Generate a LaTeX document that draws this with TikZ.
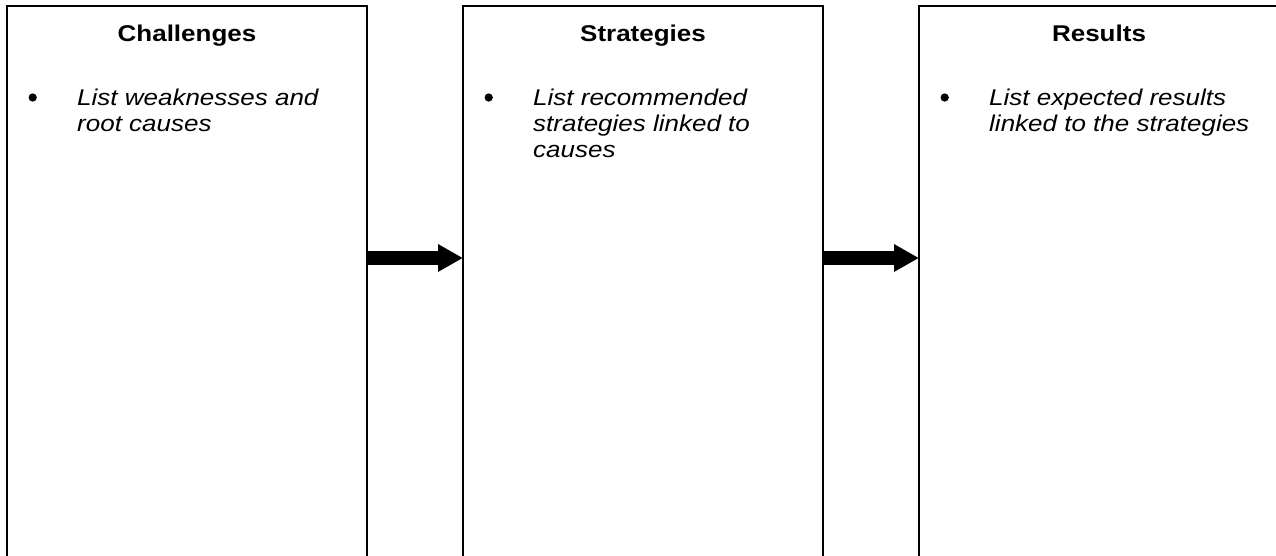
\documentclass[tikz,border=0pt]{standalone}
\usepackage{fontspec}
\setmainfont{Liberation Sans}[FakeStretch=1.14]
\usetikzlibrary{arrows.meta,calc}
\newcommand{\bodysize}{\fontsize{22.8}{26}\selectfont}
\tikzset{
  panel/.style={draw=black, line width=2pt, fill=white, minimum width=360pt, minimum height=700pt, inner sep=0pt, outer sep=0pt, anchor=north west},
  paneltitle/.style={anchor=base, inner sep=0pt, font=\bodysize\bfseries},
  bulletmark/.style={circle, fill=black, minimum size=8.3pt, inner sep=0pt},
  bodytext/.style={anchor=base west, inner sep=0pt, font=\bodysize\itshape},
  flowarrow/.style={draw=black, line width=14pt, line cap=butt, -{Triangle[length=25pt,width=26pt]}}
}
\begin{document}
\begin{tikzpicture}[x=1pt, y=-1pt]
  \useasboundingbox (0,0) rectangle (1276,556);
  \clip (0,0) rectangle (1276,556);
  \fill[white] (0,0) rectangle (1276,556);
  % panels
  \node[panel] (c) at (7,6) {};
  \node[panel] (s) at (463,6) {};
  \node[panel] (r) at (919,6) {};
  % titles
  \node[paneltitle] (ct) at ($(c.north)+(0,36)$) {Challenges};
  \node[paneltitle] (st) at ($(s.north)+(0,36)$) {Strategies};
  \node[paneltitle] (rt) at ($(r.north)+(0,36)$) {Results};
  % bullets
  \node[bulletmark] (cb) at ($(c.north west)+(25.7,91.5)$) {};
  \node[bulletmark] (sb) at ($(s.north west)+(25.7,91.5)$) {};
  \node[bulletmark] (rb) at ($(r.north west)+(25.7,91.5)$) {};
  % body texts
  \node[bodytext] (cx) at ($(c.north west)+(70,99.7)$) {\parbox[t]{285pt}{\raggedright List weaknesses and\\root causes}};
  \node[bodytext] (sx) at ($(s.north west)+(70,99.7)$) {\parbox[t]{285pt}{\raggedright List recommended\\strategies linked to\\causes}};
  \node[bodytext] (rx) at ($(r.north west)+(70,99.7)$) {\parbox[t]{300pt}{\raggedright List expected results\\linked to the strategies}};
  % arrows
  \draw[flowarrow] ($(c.north east)+(0,252)$) -- ($(s.north west)+(0,252)$);
  \draw[flowarrow] ($(s.north east)+(0,252)$) -- ($(r.north west)+(0,252)$);
\end{tikzpicture}
\end{document}
